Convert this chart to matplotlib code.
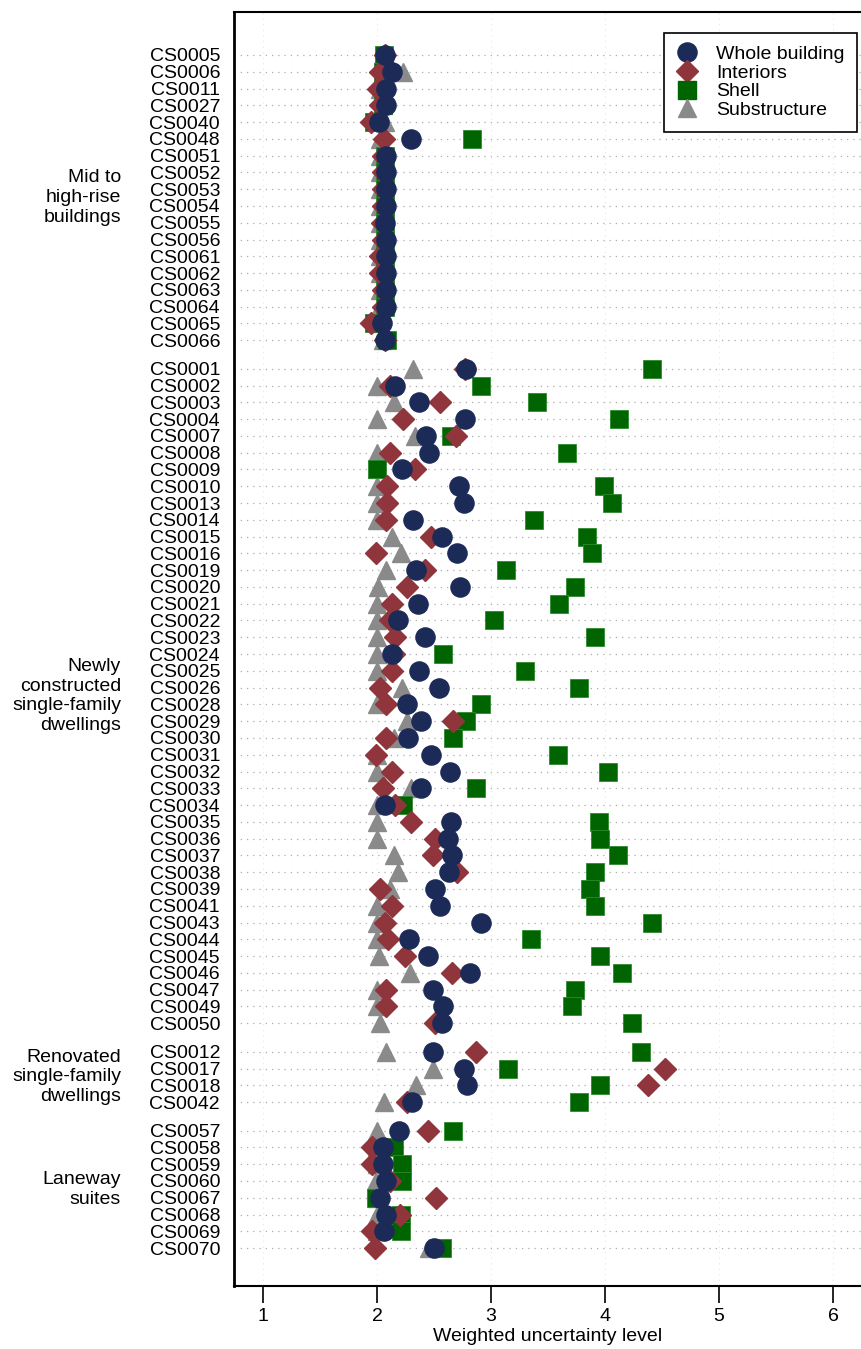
import matplotlib
matplotlib.use("Agg")
import matplotlib.pyplot as plt
from matplotlib.lines import Line2D
import numpy as np

plt.rcParams['font.family'] = ['Liberation Sans', 'DejaVu Sans']

# ---------------- data ----------------
group_names = ["Mid to\nhigh-rise\nbuildings",
               "Newly\nconstructed\nsingle-family\ndwellings",
               "Renovated\nsingle-family\ndwellings",
               "Laneway\nsuites"]

cases_mid = ["CS0005", "CS0006", "CS0011", "CS0027", "CS0040", "CS0048", "CS0051",
             "CS0052", "CS0053", "CS0054", "CS0055", "CS0056", "CS0061", "CS0062",
             "CS0063", "CS0064", "CS0065", "CS0066"]
cases_new = ["CS0001", "CS0002", "CS0003", "CS0004", "CS0007", "CS0008", "CS0009",
             "CS0010", "CS0013", "CS0014", "CS0015", "CS0016", "CS0019", "CS0020",
             "CS0021", "CS0022", "CS0023", "CS0024", "CS0025", "CS0026", "CS0028",
             "CS0029", "CS0030", "CS0031", "CS0032", "CS0033", "CS0034", "CS0035",
             "CS0036", "CS0037", "CS0038", "CS0039", "CS0041", "CS0043", "CS0044",
             "CS0045", "CS0046", "CS0047", "CS0049", "CS0050"]
cases_ren = ["CS0012", "CS0017", "CS0018", "CS0042"]
cases_lan = ["CS0057", "CS0058", "CS0059", "CS0060", "CS0067", "CS0068", "CS0069", "CS0070"]

# Whole building
whole_mid = [2.07, 2.13, 2.08, 2.08, 2.02, 2.30, 2.08, 2.08, 2.08, 2.08, 2.07, 2.08,
             2.08, 2.08, 2.08, 2.08, 2.04, 2.07]
whole_new = [2.78, 2.16, 2.37, 2.77, 2.43, 2.46, 2.22, 2.72, 2.76, 2.32, 2.57, 2.70,
             2.34, 2.73, 2.36, 2.18, 2.42, 2.13, 2.37, 2.54, 2.26, 2.39, 2.27, 2.47,
             2.64, 2.39, 2.07, 2.65, 2.62, 2.66, 2.63, 2.51, 2.55, 2.91, 2.28, 2.45,
             2.82, 2.49, 2.58, 2.57]
whole_ren = [2.49, 2.76, 2.79, 2.31]
whole_lan = [2.19, 2.05, 2.05, 2.08, 2.03, 2.08, 2.06, 2.50]

# Interiors
inter_mid = [2.07, 2.03, 2.01, 2.03, 1.95, 2.06, 2.05, 2.05, 2.05, 2.05, 2.04, 2.05,
             2.03, 2.03, 2.05, 2.05, 1.95, 2.07]
inter_new = [2.77, 2.11, 2.55, 2.23, 2.69, 2.11, 2.33, 2.09, 2.09, 2.08, 2.47, 1.99,
             2.42, 2.26, 2.13, 2.11, 2.16, 2.15, 2.13, 2.03, 2.08, 2.67, 2.08, 1.99,
             2.13, 2.05, 2.16, 2.30, 2.51, 2.49, 2.70, 2.03, 2.13, 2.07, 2.10, 2.25,
             2.66, 2.08, 2.08, 2.51]
inter_ren = [2.87, 4.53, 4.38, 2.26]
inter_lan = [2.45, 1.96, 1.96, 2.11, 2.52, 2.20, 1.96, 1.98]

# Shell
shell_mid = [2.06, 2.05, 2.05, 2.05, 1.97, 2.83, 2.07, 2.07, 2.07, 2.07, 2.07, 2.07,
             2.07, 2.07, 2.07, 2.07, 1.97, 2.09]
shell_new = [4.41, 2.91, 3.40, 4.12, 2.65, 3.67, 2.00, 3.99, 4.06, 3.38, 3.84, 3.89,
             3.13, 3.74, 3.60, 3.03, 3.91, 2.58, 3.30, 3.77, 2.91, 2.78, 2.67, 3.59,
             4.03, 2.87, 2.23, 3.95, 3.96, 4.11, 3.91, 3.87, 3.91, 4.41, 3.35, 3.96,
             4.15, 3.74, 3.71, 4.24]
shell_ren = [4.32, 3.15, 3.96, 3.77]
shell_lan = [2.67, 2.15, 2.22, 2.22, 1.99, 2.21, 2.21, 2.57]

# Substructure
subs_mid = [2.05, 2.23, 2.03, 2.05, 2.07, 2.03, 2.03, 2.03, 2.03, 2.03, 2.03, 2.03,
            2.03, 2.03, 2.03, 2.03, 2.03, 2.05]
subs_new = [2.32, 2.00, 2.15, 2.00, 2.33, 2.00, 2.00, 2.00, 2.00, 2.00, 2.13, 2.21,
            2.08, 2.01, 2.00, 2.00, 2.00, 2.00, 2.00, 2.22, 2.00, 2.26, 2.15, 2.00,
            2.00, 2.30, 2.00, 2.00, 2.00, 2.15, 2.18, 2.11, 2.00, 2.00, 2.00, 2.02,
            2.29, 2.00, 2.00, 2.03]
subs_ren = [2.08, 2.49, 2.34, 2.06]
subs_lan = [2.00, 2.00, 2.00, 1.99, 2.00, 2.00, 2.00, 2.46]

xticks = [1, 2, 3, 4, 5, 6]
series_names = ["Whole building", "Interiors", "Shell", "Substructure"]

# ---------------- layout ----------------
groups_cases = [cases_mid, cases_new, cases_ren, cases_lan]
whole = whole_mid + whole_new + whole_ren + whole_lan
inter = inter_mid + inter_new + inter_ren + inter_lan
shell = shell_mid + shell_new + shell_ren + shell_lan
subs = subs_mid + subs_new + subs_ren + subs_lan

gap = 1.7
ypos = []
labels = []
centers = []
cur = 0.0
for gi, cases in enumerate(groups_cases):
    start = cur
    for c in cases:
        ypos.append(cur)
        labels.append(c)
        cur += 1
    centers.append((start + cur - 1) / 2)
    cur += gap - 1
ypos = np.array(ypos)

W, H = 862, 1349
fig = plt.figure(figsize=(W / 100, H / 100), dpi=100)
ax = fig.add_axes([234 / W, 1 - 1286 / H, (862 - 234) / W, (1286 - 12) / H])

c_navy = "#1b2a57"
c_maroon = "#90353b"
c_green = "#006400"
c_gray = "#8a8a8a"

ax.plot(subs, ypos, linestyle='none', marker='^', ms=13.5, color=c_gray,
        mec=c_gray, zorder=3)
ax.plot(shell, ypos, linestyle='none', marker='s', ms=12.8, color=c_green,
        mec="#2e8b2e", mew=0.6, zorder=4)
ax.plot(inter, ypos, linestyle='none', marker='D', ms=11.5, color=c_maroon,
        mec=c_maroon, zorder=5)
ax.plot(whole, ypos, linestyle='none', marker='o', ms=13.8, color=c_navy,
        mec=c_navy, zorder=6)

ax.set_ylim(ypos[-1] + 2.26, -2.56)
ax.set_xlim(1 - 29 / 114, 1 + (862 - 263) / 114)

ax.set_yticks(ypos)
ax.set_yticklabels(labels, fontsize=14)
ax.tick_params(axis='y', length=0, pad=10)
ax.set_xticks(xticks)
ax.set_xticklabels([str(t) for t in xticks], fontsize=14)
ax.tick_params(axis='x', length=12, width=1.2, pad=4, direction='out')

for y in ypos:
    ax.axhline(y, color="#ababab", lw=0.9, ls=(0, (1, 4)), zorder=1)
for xv in xticks:
    ax.axvline(xv, color="#e6e6e6", lw=0.8, ls=(0, (1, 4)), zorder=0.5)

ax.spines['right'].set_visible(False)
ax.spines['left'].set_linewidth(2.0)
ax.spines['top'].set_linewidth(1.5)
ax.spines['bottom'].set_linewidth(1.5)

ax.set_xlabel("Weighted uncertainty level", fontsize=14, labelpad=2)

for name, cy in zip(group_names, centers):
    ax.text(-(234 - 121) / 628, cy, name, transform=ax.get_yaxis_transform(),
            ha='right', va='center', fontsize=14, linespacing=1.2)

handles = [
    Line2D([], [], linestyle='none', marker='o', ms=13.8, color=c_navy),
    Line2D([], [], linestyle='none', marker='D', ms=11.5, color=c_maroon),
    Line2D([], [], linestyle='none', marker='s', ms=12.8, color=c_green),
    Line2D([], [], linestyle='none', marker='^', ms=13.5, color=c_gray),
]
leg = ax.legend(handles, series_names, loc='upper right',
                bbox_to_anchor=((857 - 234) / 628, (1286 - 33) / 1274),
                borderaxespad=0, fontsize=14, frameon=True, fancybox=False,
                edgecolor='black', framealpha=1, labelspacing=0.05,
                handlelength=1.0, handletextpad=1.0, borderpad=0.65)
leg.get_frame().set_linewidth(1.2)

fig.savefig("out.png", dpi=100)
